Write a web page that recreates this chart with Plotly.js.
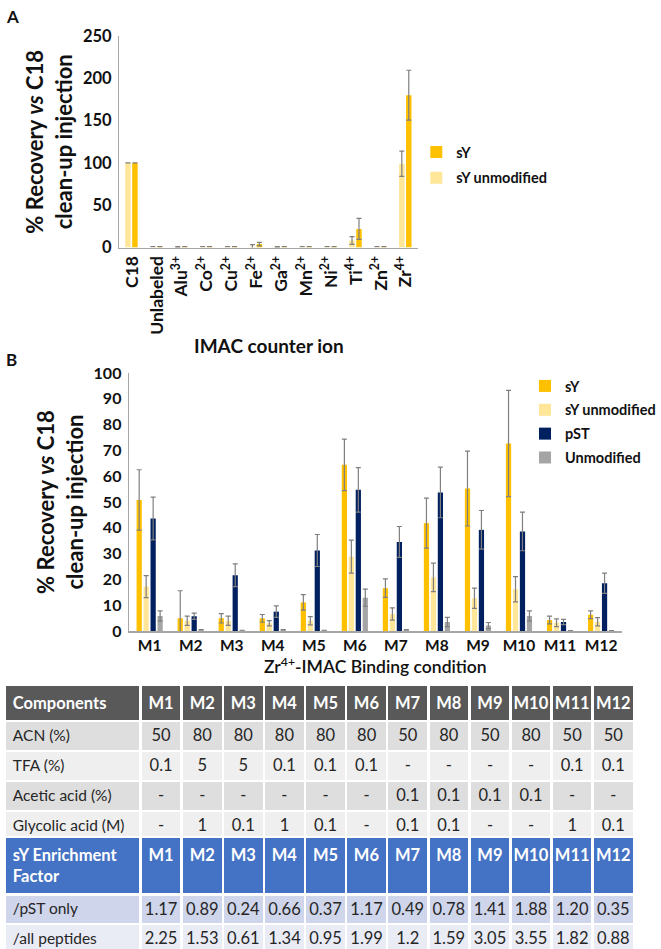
<!DOCTYPE html>
<html>
<head>
<meta charset="utf-8">
<script src="https://cdn.plot.ly/plotly-3.0.1.min.js"></script>
<style>html,body{margin:0;padding:0;background:#fff;}#chart{width:661px;height:949px;}</style>
</head>
<body>
<div id="chart"></div>
<script>
// ---------- Panel A data ----------
var ionsA = ["C18", "Unlabeled", "Alu<sup>3+</sup>", "Co<sup>2+</sup>", "Cu<sup>2+</sup>", "Fe<sup>2+</sup>", "Ga<sup>2+</sup>", "Mn<sup>2+</sup>", "Ni<sup>2+</sup>", "Ti<sup>4+</sup>", "Zn<sup>2+</sup>", "Zr<sup>4+</sup>"];
var sY_A        = [100, 1, 1, 1, 1, 4, 1, 1, 1, 22, 1, 180];
var sY_A_err    = [0, 0, 0, 0, 0, 2, 0, 0, 0, 12.5, 0, 29.5];
var sYunmod_A     = [100, 1, 0.5, 1, 1, 1, 0.5, 1, 1, 8.3, 1, 99];
var sYunmod_A_err = [0, 0, 0.5, 0, 0, 2.5, 0.5, 0, 0, 4.5, 0, 15];

// ---------- Panel B data ----------
var condB = ["M1","M2","M3","M4","M5","M6","M7","M8","M9","M10","M11","M12"];
var sY_B          = [50.8, 4.9, 4.9, 4.9, 11.1, 64.4, 16.6, 41.8, 55.2, 72.7, 4.3, 6.3];
var sY_B_err      = [11.7, 10.7, 1.8, 1.5, 3.0, 10.0, 3.6, 9.7, 14.5, 20.6, 1.5, 1.5];
var sYunmod_B     = [17.2, 4.0, 4.0, 3.0, 4.0, 28.8, 6.6, 20.8, 12.7, 16.2, 3.2, 3.6];
var sYunmod_B_err = [4.3, 1.8, 1.8, 1.0, 1.6, 6.4, 2.4, 5.5, 3.9, 4.9, 1.5, 1.6];
var pST_B         = [43.6, 5.7, 21.6, 7.5, 31.2, 54.7, 34.5, 53.7, 39.2, 38.6, 3.5, 18.5];
var pST_B_err     = [8.3, 1.2, 4.4, 2.2, 6.2, 8.6, 6.0, 9.8, 7.5, 7.5, 1.0, 3.9];
var unmod_B       = [5.8, 0.5, 0.3, 0.5, 0.3, 12.9, 0.5, 3.5, 2.1, 5.8, 0.2, 0.2];
var unmod_B_err   = [2.0, 0, 0, 0, 0, 3.3, 0, 1.8, 1.2, 2.0, 0, 0];

// ---------- Table data ----------
var compHeader = ["Components","M1","M2","M3","M4","M5","M6","M7","M8","M9","M10","M11","M12"];
var compRowLabels = ["ACN (%)", "TFA (%)", "Acetic acid (%)", "Glycolic acid (M)"];
var acnRow      = ["50","80","80","80","80","80","50","80","50","80","50","50"];
var tfaRow      = ["0.1","5","5","0.1","0.1","0.1","-","-","-","-","0.1","0.1"];
var aceticRow   = ["-","-","-","-","-","-","0.1","0.1","0.1","0.1","-","-"];
var glycolicRow = ["-","1","0.1","1","0.1","-","0.1","0.1","-","-","1","0.1"];
var efHeader = ["sY Enrichment<br>Factor","M1","M2","M3","M4","M5","M6","M7","M8","M9","M10","M11","M12"];
var efRowLabels = ["/pST only", "/all peptides"];
var pstOnlyRow  = ["1.17","0.89","0.24","0.66","0.37","1.17","0.49","0.78","1.41","1.88","1.20","0.35"];
var allPepRow   = ["2.25","1.53","0.61","1.34","0.95","1.99","1.2","1.59","3.05","3.55","1.82","0.88"];

// ---------- Styling ----------
var FONT = "Lato, 'Open Sans', 'DejaVu Sans', sans-serif";
var C_SY = "#FFC000", C_SYU = "#FFE699", C_PST = "#002060", C_UN = "#A5A5A5";
var ERRC = "#7F7F7F";
var H = 949, W = 661;
function py(px) { return 1 - px / H; }
function pxX(px) { return px / W; }
function err(arr) { return {type: "data", array: arr, visible: true, color: ERRC, thickness: 1.2, width: 2.5}; }

var traces = [];
// Panel A
traces.push({type: "bar", x: ionsA, y: sYunmod_A, name: "sY unmodified", marker: {color: C_SYU}, legendgroup: "a2", legendrank: 2,
  error_y: err(sYunmod_A_err), xaxis: "x", yaxis: "y", width: 0.22, offset: -0.27, legend: "legend"});
traces.push({type: "bar", x: ionsA, y: sY_A, name: "sY", marker: {color: C_SY}, legendgroup: "a1", legendrank: 1,
  error_y: err(sY_A_err), xaxis: "x", yaxis: "y", width: 0.22, offset: 0.01, legend: "legend"});
// Panel B
traces.push({type: "bar", x: condB, y: sY_B, name: "sY", marker: {color: C_SY}, legendgroup: "b1", error_y: err(sY_B_err), xaxis: "x2", yaxis: "y2", legend: "legend2"});
traces.push({type: "bar", x: condB, y: sYunmod_B, name: "sY unmodified", marker: {color: C_SYU}, legendgroup: "b2", error_y: err(sYunmod_B_err), xaxis: "x2", yaxis: "y2", legend: "legend2"});
traces.push({type: "bar", x: condB, y: pST_B, name: "pST", marker: {color: C_PST}, legendgroup: "b3", error_y: err(pST_B_err), xaxis: "x2", yaxis: "y2", legend: "legend2"});
traces.push({type: "bar", x: condB, y: unmod_B, name: "Unmodified", marker: {color: C_UN}, legendgroup: "b4", error_y: err(unmod_B_err), xaxis: "x2", yaxis: "y2", legend: "legend2"});

// Tables
var nCols = compHeader.length;
var colWidths = [141]; for (var i = 1; i < nCols; i++) colWidths.push(42.7);
function columnsFrom(labels, rows) {
  var cols = [labels.slice()];
  for (var c = 0; c < rows[0].length; c++) {
    cols.push(rows.map(function (r) { return r[c]; }));
  }
  return cols;
}
function fillFrom(rowColors) {
  var out = [];
  for (var c = 0; c < nCols; c++) out.push(rowColors.slice());
  return out;
}
var alignArr = ["left"]; for (var i = 1; i < nCols; i++) alignArr.push("center");
var bodySizes = [15.5]; for (var i = 1; i < nCols; i++) bodySizes.push(16.5);

traces.push({
  type: "table",
  domain: {x: [pxX(5), pxX(658)], y: [py(836), py(685)]},
  columnwidth: colWidths,
  header: {values: compHeader.map(function (h) { return "<b>" + h + "</b>"; }), align: alignArr, height: 30,
    fill: {color: "#595959"}, line: {color: "#FFFFFF", width: 2.5},
    font: {family: FONT, size: 16.5, color: "#FFFFFF"}},
  cells: {values: columnsFrom(compRowLabels, [acnRow, tfaRow, aceticRow, glycolicRow]), align: alignArr, height: 30,
    fill: {color: fillFrom(["#DEDEDE", "#EFEFEF", "#DEDEDE", "#EFEFEF"])}, line: {color: "#FFFFFF", width: 2.5},
    font: {family: FONT, size: bodySizes, color: "#262626"}}
});
traces.push({
  type: "table",
  domain: {x: [pxX(5), pxX(658)], y: [0, py(837)]},
  columnwidth: colWidths,
  header: {values: efHeader.map(function (h) { return "<b>" + h + "</b>"; }), align: alignArr, height: 51,
    fill: {color: "#4472C4"}, line: {color: "#FFFFFF", width: 2.5},
    font: {family: FONT, size: 16.5, color: "#FFFFFF"}},
  cells: {values: columnsFrom(efRowLabels, [pstOnlyRow, allPepRow]), align: alignArr, height: 29.5,
    fill: {color: fillFrom(["#CFD5EA", "#E9EBF5"])}, line: {color: "#FFFFFF", width: 2.5},
    font: {family: FONT, size: bodySizes, color: "#262626"}}
});

var axisLine = {showline: true, linecolor: "#A6A6A6", linewidth: 1.5, showgrid: false, zeroline: false, ticks: ""};
var layout = {
  width: W, height: H,
  margin: {l: 0, r: 0, t: 0, b: 0},
  paper_bgcolor: "#FFFFFF", plot_bgcolor: "rgba(0,0,0,0)",
  font: {family: FONT, color: "#111111"},
  barmode: "group", bargap: 0.32, bargroupgap: 0.25,
  showlegend: true,
  xaxis: Object.assign({}, axisLine, {domain: [pxX(124), pxX(434)], anchor: "y", tickangle: -90,
    tickfont: {family: FONT, size: 17.5, color: "#111", weight: "bold"},
    title: {text: "<b>IMAC counter ion</b>", font: {family: FONT, size: 19, color: "#111"}, standoff: 6}}),
  yaxis: Object.assign({}, axisLine, {domain: [py(247.5), py(36)], anchor: "x", range: [0, 250], tickvals: [0, 50, 100, 150, 200, 250],
    tickfont: {family: FONT, size: 16.5, color: "#111", weight: "bold"}, ticklabelstandoff: 3,
    title: {text: "<b>% Recovery <i>vs</i> C18<br>clean-up injection</b>", font: {family: FONT, size: 22, color: "#111"}, standoff: 4}}),
  xaxis2: Object.assign({}, axisLine, {domain: [pxX(134), pxX(645)], anchor: "y2", tickangle: 0,
    tickfont: {family: FONT, size: 15.5, color: "#111", weight: "bold"},
    title: {text: "Zr<sup>4+</sup>-IMAC Binding condition", font: {family: FONT, size: 17.5, color: "#111", weight: 600}, standoff: 2}}),
  yaxis2: Object.assign({}, axisLine, {domain: [py(631), py(373)], anchor: "x2", range: [0, 100], dtick: 10,
    tickfont: {family: FONT, size: 16, color: "#111", weight: "bold"}, ticklabelstandoff: 3,
    title: {text: "<b>% Recovery <i>vs</i> C18<br>clean-up injection</b>", font: {family: FONT, size: 22, color: "#111"}, standoff: 4}}),
  legend: {x: pxX(432), y: py(136), xanchor: "left", yanchor: "top", traceorder: "grouped", tracegroupgap: 4,
    font: {family: FONT, size: 14.5, color: "#111", weight: "bold"}, bgcolor: "rgba(0,0,0,0)", itemwidth: 30},
  legend2: {x: pxX(545), y: py(370), xanchor: "left", yanchor: "top", traceorder: "grouped", tracegroupgap: 2,
    font: {family: FONT, size: 14.5, color: "#111", weight: "bold"}, bgcolor: "rgba(0,0,0,0)", itemwidth: 30},
  annotations: [
    {text: "<b>A</b>", x: pxX(4), y: py(4), xref: "paper", yref: "paper", xanchor: "left", yanchor: "top", showarrow: false, font: {family: FONT, size: 17, color: "#111"}},
    {text: "<b>B</b>", x: pxX(4), y: py(347), xref: "paper", yref: "paper", xanchor: "left", yanchor: "top", showarrow: false, font: {family: FONT, size: 17, color: "#111"}}
  ]
};

Plotly.newPlot("chart", traces, layout, {displayModeBar: false, staticPlot: true});
</script>
</body>
</html>
